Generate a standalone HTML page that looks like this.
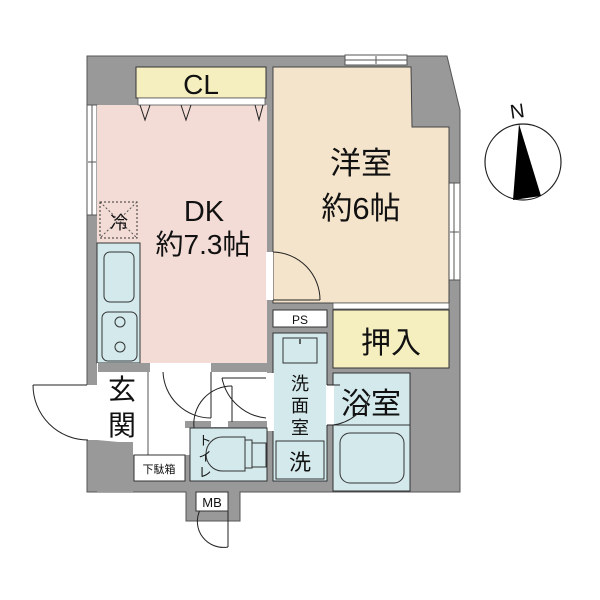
<!DOCTYPE html>
<html><head><meta charset="utf-8"><style>
html,body{margin:0;padding:0;background:#fff}
svg{display:block}
text{font-family:"Liberation Sans","Noto Sans CJK JP",sans-serif;fill:#111}
</style></head><body>
<svg width="600" height="600" viewBox="0 0 600 600" xmlns="http://www.w3.org/2000/svg">
<polygon points="87,56 447,56 460,110 460,492 240,492 240,521 186,521 186,492 87,492" fill="#999" stroke="#555" stroke-width="1"/>
<rect x="86" y="385" width="12" height="55" fill="#fff"/>
<rect x="345" y="55" width="62" height="10" fill="#fff" stroke="#555" stroke-width="1"/>
<line x1="345" y1="60" x2="407" y2="60" stroke="#555"/><line x1="376" y1="56" x2="376" y2="64" stroke="#555"/>
<rect x="87" y="105" width="10" height="110" fill="#fff" stroke="#555" stroke-width="1"/>
<line x1="92" y1="105" x2="92" y2="215" stroke="#555"/><line x1="88" y1="162" x2="96" y2="162" stroke="#555"/>
<rect x="449" y="183" width="11" height="97" fill="#fff" stroke="#555" stroke-width="1"/>
<line x1="454" y1="183" x2="454" y2="280" stroke="#555"/><line x1="450" y1="232" x2="459" y2="232" stroke="#555"/>
<rect x="97" y="105" width="170" height="258" fill="#f4dcd6"/>
<rect x="136" y="67" width="130" height="31" fill="#f5efc0" stroke="#333" stroke-width="1"/>
<text x="201" y="94" font-size="28" text-anchor="middle">CL</text>
<rect x="138" y="98" width="127" height="7" fill="#fff" stroke="#555" stroke-width="0.8"/>
<g fill="none" stroke="#222" stroke-width="1"><polyline points="140,105 145,120 150,105"/><polyline points="181,105 186,120 191,105"/><polyline points="255,105 259,120 263,105"/></g>
<rect x="100" y="202" width="37" height="36" fill="none" stroke="#333" stroke-dasharray="2,2"/>
<line x1="100" y1="202" x2="137" y2="238" stroke="#555" stroke-dasharray="2,2"/><line x1="137" y1="202" x2="100" y2="238" stroke="#555" stroke-dasharray="2,2"/>
<text x="119" y="229" font-size="18" text-anchor="middle">冷</text>
<rect x="97" y="243" width="43" height="120" fill="#d3e9ec" stroke="#333"/>
<rect x="104" y="252" width="30" height="50" rx="6" fill="none" stroke="#333"/>
<rect x="102" y="312" width="35" height="49" rx="6" fill="none" stroke="#333"/>
<circle cx="120" cy="322" r="5" fill="none" stroke="#333"/><circle cx="120" cy="347" r="5" fill="none" stroke="#333"/>
<text x="204" y="221" font-size="29" text-anchor="middle">DK</text>
<text x="203" y="254" font-size="28" text-anchor="middle">約7.3帖</text>
<polygon points="273,67 411,67 412,127 449,127 449,303 273,303" fill="#f5e4cc" stroke="#444"/>
<rect x="266" y="252" width="7" height="48" fill="#fff"/>
<path d="M273,252 A48,48 0 0 1 320,300" fill="none" stroke="#222"/>
<line x1="273" y1="300" x2="320" y2="300" stroke="#222"/>
<text x="361" y="174" font-size="31" text-anchor="middle">洋室</text>
<text x="361" y="219" font-size="31" text-anchor="middle">約6帖</text>
<rect x="333" y="303" width="116" height="6" fill="#fff" stroke="#555" stroke-width="0.8"/>
<rect x="333" y="310" width="116" height="58" fill="#f5efc0" stroke="#333"/>
<text x="391" y="353" font-size="30" text-anchor="middle">押入</text>
<rect x="273" y="310" width="54" height="17" fill="#fff" stroke="#333"/>
<text x="300" y="324" font-size="12" text-anchor="middle">PS</text>
<rect x="273" y="333" width="54" height="148" fill="#d3e9ec" stroke="#333"/>
<rect x="283" y="338" width="34" height="25" fill="none" stroke="#333"/>
<line x1="300" y1="339" x2="300" y2="344" stroke="#333" stroke-width="1.5"/>
<rect x="276" y="441" width="48" height="38" fill="none" stroke="#333"/>
<text x="300" y="470" font-size="22" text-anchor="middle">洗</text>
<text x="300" y="390" font-size="18" text-anchor="middle">洗</text>
<text x="300" y="412" font-size="18" text-anchor="middle">面</text>
<text x="300" y="434" font-size="18" text-anchor="middle">室</text>
<rect x="97" y="363" width="170" height="64" fill="#fff"/>
<rect x="97" y="427" width="36" height="15" fill="#fff"/>
<rect x="133" y="427" width="57" height="28" fill="#fff"/>
<rect x="266" y="373" width="8" height="58" fill="#fff"/>
<line x1="148" y1="372" x2="148" y2="455" stroke="#555"/>
<rect x="98" y="363" width="52" height="9" fill="#999"/>
<rect x="211" y="363" width="56" height="9" fill="#999"/>
<rect x="185" y="421" width="26" height="7" fill="#999"/>
<rect x="228" y="421" width="39" height="7" fill="#999"/>
<polygon points="97,440 130,443 133,455 133,492 97,492" fill="#999"/>
<g fill="none" stroke="#222" stroke-width="1">
<path d="M33,385 L87,385"/><path d="M33,385 A55,55 0 0 0 88,440"/>
<path d="M163,372 A48,48 0 0 0 211,418"/><line x1="211" y1="372" x2="211" y2="418"/>
<path d="M194,428 A38,38 0 0 1 232,386"/><line x1="232" y1="386" x2="232" y2="422"/>
<path d="M222,378 L266,378"/><path d="M222,378 A50,50 0 0 0 266,418"/>
<path d="M200,510 A26,26 0 0 0 228,547"/><line x1="228" y1="510" x2="228" y2="547"/>
</g>
<rect x="134" y="455" width="51" height="26" fill="#fff" stroke="#333"/>
<text x="159" y="473" font-size="11" text-anchor="middle">下駄箱</text>
<text x="122" y="399" font-size="28" text-anchor="middle">玄</text>
<text x="122" y="435" font-size="28" text-anchor="middle">関</text>
<rect x="190" y="428" width="77" height="53" fill="#d3e9ec" stroke="#333"/>
<path d="M245,437 L222,437 A16,17 0 0 0 222,471 L245,471 Z" fill="none" stroke="#333"/>
<rect x="245" y="440" width="7" height="28" fill="none" stroke="#333"/>
<rect x="252" y="443" width="14" height="24" fill="none" stroke="#333"/>
<text x="205" y="445" font-size="13" text-anchor="middle">ト</text>
<text x="205" y="461" font-size="13" text-anchor="middle">イ</text>
<text x="205" y="477" font-size="13" text-anchor="middle">レ</text>
<rect x="333" y="373" width="77" height="118" fill="#d3e9ec" stroke="#333"/>
<line x1="333" y1="425" x2="410" y2="425" stroke="#333"/>
<rect x="340" y="433" width="64" height="50" rx="10" fill="none" stroke="#333"/>
<text x="371" y="414" font-size="30" text-anchor="middle">浴室</text>
<rect x="326" y="385" width="8" height="40" fill="#fff"/>
<path d="M327,385 L340,385" stroke="#222"/>
<path d="M327,425 L333,425 A45,45 0 0 0 370,395" fill="none" stroke="#222"/>
<rect x="196" y="492" width="32" height="19" fill="#fff" stroke="#333"/>
<text x="212" y="507" font-size="13" text-anchor="middle">MB</text>
<circle cx="523" cy="162" r="38" fill="#fff" stroke="#222" stroke-width="1.2"/>
<polygon points="519,124 513,200 541,196" fill="#000"/>
<text x="517" y="118" font-size="20" text-anchor="middle" transform="rotate(-8 517 110)">N</text>
</svg>
</body></html>
